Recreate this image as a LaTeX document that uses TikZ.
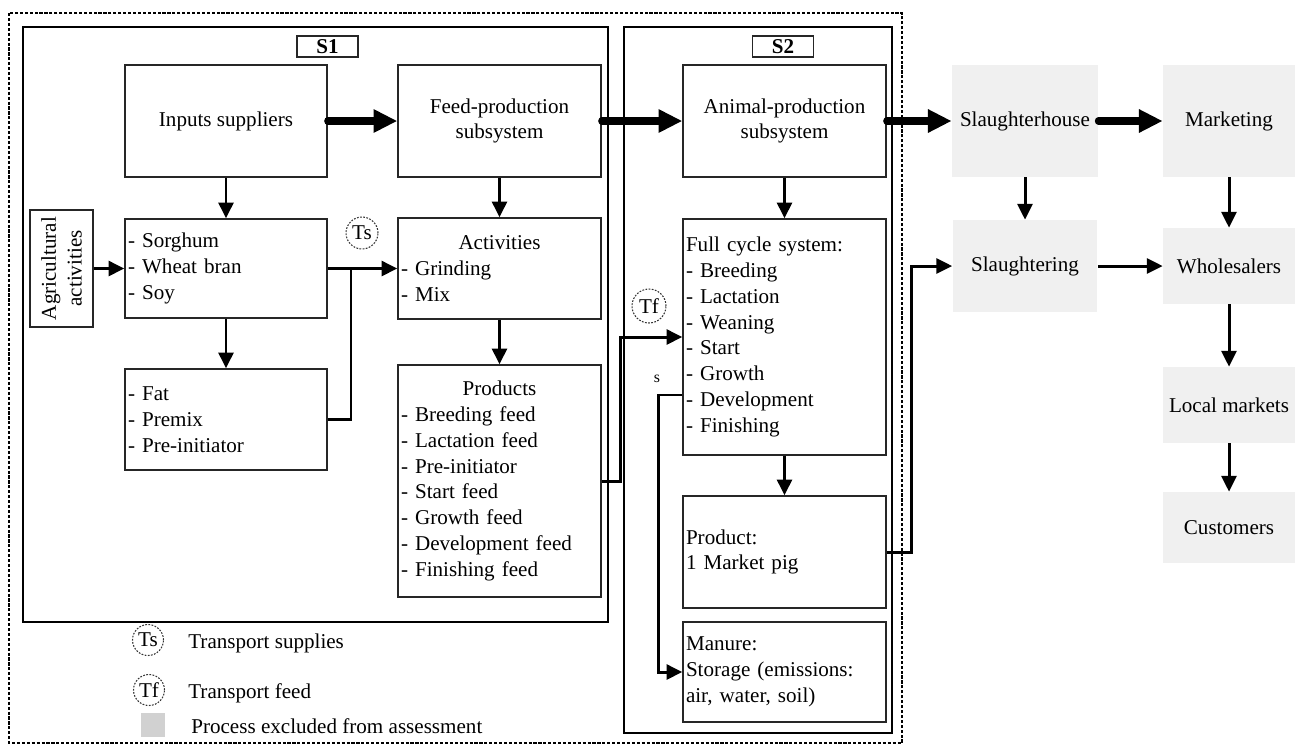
\documentclass[tikz,border=0pt]{standalone}
\usepackage{fontspec}
\setmainfont{Liberation Serif}
\usetikzlibrary{arrows.meta,positioning}

\begin{document}
\begin{tikzpicture}[x=0.02cm,y=-0.02cm,font=\fontsize{12}{14.7}\selectfont,
  pbox/.style={draw=black!85,line width=0.8pt,inner sep=0.06cm},
  lst/.style={pbox,align=left,text width=3.94cm,minimum width=4.06cm},
  gbox/.style={fill=black!6,inner sep=0,align=center},
  frm/.style={draw,line width=1.1pt},
  arr/.style={-{Triangle[length=9pt,width=8.5pt]},line width=1.7pt},
  bigarr/.style={-{Triangle[length=13.5pt,width=12.5pt]},line width=4pt,line cap=round},
  tcirc/.style={circle,draw=black!80,line width=0.6pt,dash pattern=on 1pt off 0.8pt,inner sep=0}]
  \useasboundingbox (0,0) rectangle (1306,745);

  \draw[dash pattern=on 1.8pt off 1pt,line width=0.9pt] (9,13) rectangle (902,743);
  \draw[frm] (23,27) rectangle (608,622);
  \draw[frm] (624,27) rectangle (892,733);
  \node[pbox,inner sep=0,minimum width=1.22cm,minimum height=0.42cm,font=\fontsize{12}{14.7}\selectfont\bfseries] (s1) at (327.5,46.5) {S1};
  \node[pbox,inner sep=0,minimum width=1.22cm,minimum height=0.42cm,font=\fontsize{12}{14.7}\selectfont\bfseries] (s2) at (783,46.5) {S2};

  \node[pbox,align=center,minimum width=4.04cm,minimum height=2.24cm] (inp) at (226,121) {Inputs suppliers};
  \node[pbox,align=center,minimum width=4.06cm,minimum height=2.24cm] (feed) at (499.5,121) {Feed-production\\subsystem};
  \node[pbox,align=center,minimum width=4.06cm,minimum height=2.24cm] (anim) at (784.5,121) {Animal-production\\subsystem};
  \node[pbox,rotate=90,align=center,minimum width=2.34cm,minimum height=1.26cm] (agri) at (61.5,268.5) {Agricultural\\activities};
  \node[lst,text width=3.92cm,minimum width=4.04cm,minimum height=1.98cm] (sorg) at (226,268.5) {- Sorghum\\- Wheat bran\\- Soy};
  \node[lst,minimum height=2.02cm] (act) at (499.5,268.5) {{\centering Activities\par}- Grinding\\- Mix};
  \node[lst,text width=3.92cm,minimum width=4.04cm,minimum height=2.02cm] (fat) at (226,419.5) {- Fat\\- Premix\\- Pre-initiator};
  \node[lst,minimum height=4.64cm] (prod) at (499.5,481) {{\centering Products\par}- Breeding feed\\- Lactation feed\\- Pre-initiator\\- Start feed\\- Growth feed\\- Development feed\\- Finishing feed};
  \node[lst,minimum height=4.72cm] (full) at (784.5,337) {Full cycle system:\\- Breeding\\- Lactation\\- Weaning\\- Start\\- Growth\\- Development\\- Finishing};
  \node[lst,minimum height=2.24cm] (pig) at (784.5,552) {Product:\\1 Market pig};
  \node[lst,minimum height=2.0cm] (man) at (784.5,672) {Manure:\\Storage (emissions:\\air, water, soil)};
  \node[tcirc,minimum size=0.64cm] (ts) at (362,233) {Ts};
  \node[tcirc,minimum size=0.68cm] (tf) at (649,306) {Tf};
  \node[font=\fontsize{9}{10}\selectfont,inner sep=0] (slab) at (657,379) {s};

  \node[gbox,minimum width=2.92cm,minimum height=2.24cm] (slh) at (1025,121) {Slaughterhouse};
  \node[gbox,minimum width=2.9cm,minimum height=1.84cm] (slt) at (1025,266) {Slaughtering};
  \node[gbox,minimum width=2.64cm,minimum height=2.24cm] (mkt) at (1229,121) {Marketing};
  \node[gbox,minimum width=2.64cm,minimum height=1.52cm] (whl) at (1229,266) {Wholesalers};
  \node[gbox,minimum width=2.64cm,minimum height=1.52cm] (loc) at (1229,405) {Local markets};
  \node[gbox,minimum width=2.64cm,minimum height=1.42cm] (cus) at (1229,527.5) {Customers};

  \node[tcirc,minimum size=0.62cm] (lts) at (148,640) {Ts};
  \node[anchor=west,inner sep=0] (lts-t) at (188,643) {Transport supplies};
  \node[tcirc,minimum size=0.62cm] (ltf) at (149,690) {Tf};
  \node[anchor=west,inner sep=0] (ltf-t) at (188,693) {Transport feed};
  \node[fill=black!18,minimum size=0.48cm,inner sep=0] (lsq) at (153,725) {};
  \node[anchor=west,inner sep=0] (lsq-t) at (191,726) {Process excluded from assessment};

  \draw[bigarr] (inp.east) -- (feed.west);
  \draw[bigarr] (feed.east) -- (anim.west);
  \draw[bigarr] (anim.east) -- (slh.west);
  \draw[bigarr] (slh.east) -- (mkt.west);
  \draw[arr] (inp.south) -- (sorg.north);
  \draw[arr] (sorg.south) -- (fat.north);
  \draw[arr] (feed.south) -- (act.north);
  \draw[arr] (act.south) -- (prod.north);
  \draw[arr] (agri) -- (sorg);
  \draw[arr] (sorg.east) -- (act.west);
  \coordinate (jn) at (351,268.5);
  \draw[line width=1.7pt] (fat.east) -| (jn);
  \draw[arr] (prod.east) -- ++(19,0) |- (full.west);
  \draw[arr] (anim.south) -- (full.north);
  \draw[arr] (full.south) -- (pig.north);
  \draw[arr] ([yshift=-1.16cm]full.west) -- ++(-24,0) |- (man.west);
  \draw[arr] (pig.east) -- ++(25,0) |- (slt.west);
  \draw[arr] (slh.south) -- (slt.north);
  \draw[arr] (slt.east) -- (whl.west);
  \draw[arr] (mkt.south) -- (whl.north);
  \draw[arr] (whl.south) -- (loc.north);
  \draw[arr] (loc.south) -- (cus.north);
\end{tikzpicture}
\end{document}
